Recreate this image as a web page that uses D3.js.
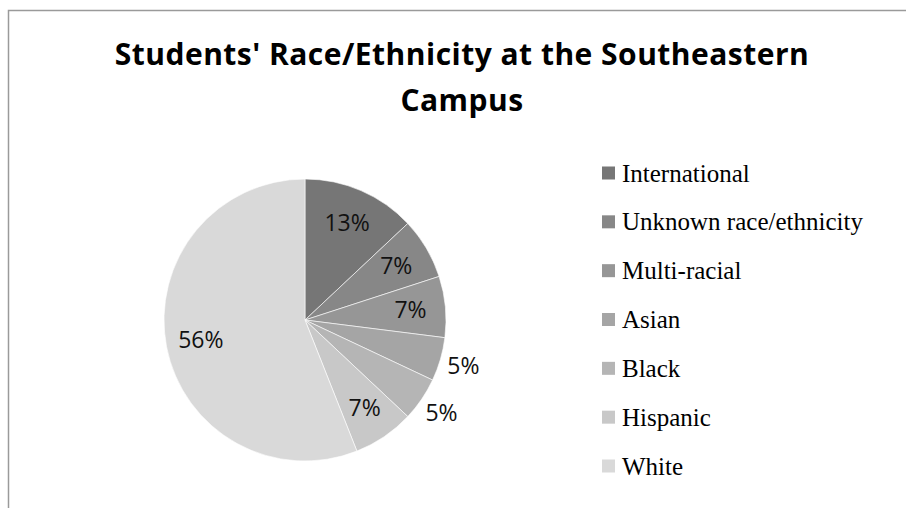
<!DOCTYPE html>
<html>
<head>
<meta charset="utf-8">
<script src="https://cdn.jsdelivr.net/npm/d3@7"></script>
<style>
  html, body { margin: 0; padding: 0; background: #fff; }
  svg { display: block; }
</style>
</head>
<body>
<svg id="chart" width="906" height="508"></svg>
<script>
const categories = ["International", "Unknown race/ethnicity", "Multi-racial", "Asian", "Black", "Hispanic", "White"];
const values = [13, 7, 7, 5, 5, 7, 56];
const sliceColors = ["#767676", "#878787", "#969696", "#a5a5a5", "#b5b5b5", "#c8c8c8", "#d9d9d9"];
const titleLines = ["Students' Race/Ethnicity at the Southeastern", "Campus"];

const svg = d3.select("#chart");
const W = 906, H = 508;

// chart area border (top and left visible)
svg.append("path")
  .attr("d", `M8.5,${H} L8.5,10.5 L${W},10.5`)
  .attr("fill", "none")
  .attr("stroke", "#9a9a9a")
  .attr("stroke-width", 1.5);

// title
const title = svg.append("text")
  .attr("text-anchor", "middle")
  .attr("font-family", "'Open Sans', Lato, sans-serif")
  .attr("font-weight", "bold")
  .attr("font-size", 30)
  .attr("fill", "#000");
const tsp = title.selectAll("tspan").data(titleLines).join("tspan")
  .attr("x", 462)
  .attr("y", (d, i) => 65 + i * 46)
  .text(d => d);
// fit first line to the reference width (~694px) via letter spacing
const firstLen = tsp.nodes()[0].getComputedTextLength();
const targetW = 694;
const ls = (targetW - firstLen) / (titleLines[0].length - 1);
if (Math.abs(ls) < 3) title.attr("letter-spacing", ls);

// pie
const cx = 305, cy = 320, R = 141;
const data = categories.map((c, i) => ({ name: c, value: values[i], color: sliceColors[i] }));
const pie = d3.pie().sort(null).value(d => d.value).startAngle(0).endAngle(2 * Math.PI);
const arcs = pie(data);
const arc = d3.arc().innerRadius(0).outerRadius(R);
const inLabel = d3.arc().innerRadius(106).outerRadius(106);
const outLabel = d3.arc().innerRadius(165).outerRadius(165);

const g = svg.append("g").attr("transform", `translate(${cx},${cy})`);
g.selectAll("path.slice").data(arcs).join("path")
  .attr("class", "slice")
  .attr("d", arc)
  .attr("fill", d => d.data.color)
  .attr("stroke", "#ffffff")
  .attr("stroke-width", 0.6);

const total = d3.sum(values);
g.selectAll("text.lbl").data(arcs).join("text")
  .attr("class", "lbl")
  .attr("transform", d => {
    const p = (d.data.value / total < 0.06 ? outLabel : inLabel).centroid(d);
    return `translate(${p[0]},${p[1]})`;
  })
  .attr("text-anchor", "middle")
  .attr("dy", "0.36em")
  .attr("font-family", "'Open Sans', 'Noto Sans', sans-serif")
  .attr("font-size", 23)
  .attr("fill", "#111")
  .text(d => Math.round(d.data.value / total * 100) + "%");

// legend
const legendY = d3.scalePoint().domain(categories).range([173, 466]);
const lg = svg.append("g");
const items = lg.selectAll("g").data(data).join("g")
  .attr("transform", d => `translate(602,${legendY(d.name)})`);
items.append("rect")
  .attr("x", 0).attr("y", -6.5)
  .attr("width", 13).attr("height", 13)
  .attr("fill", d => d.color);
items.append("text")
  .attr("x", 20)
  .attr("y", 8.5)
  .attr("font-family", "'Liberation Serif', 'Times New Roman', serif")
  .attr("font-size", 25)
  .attr("fill", "#000")
  .text(d => d.name);
</script>
</body>
</html>
